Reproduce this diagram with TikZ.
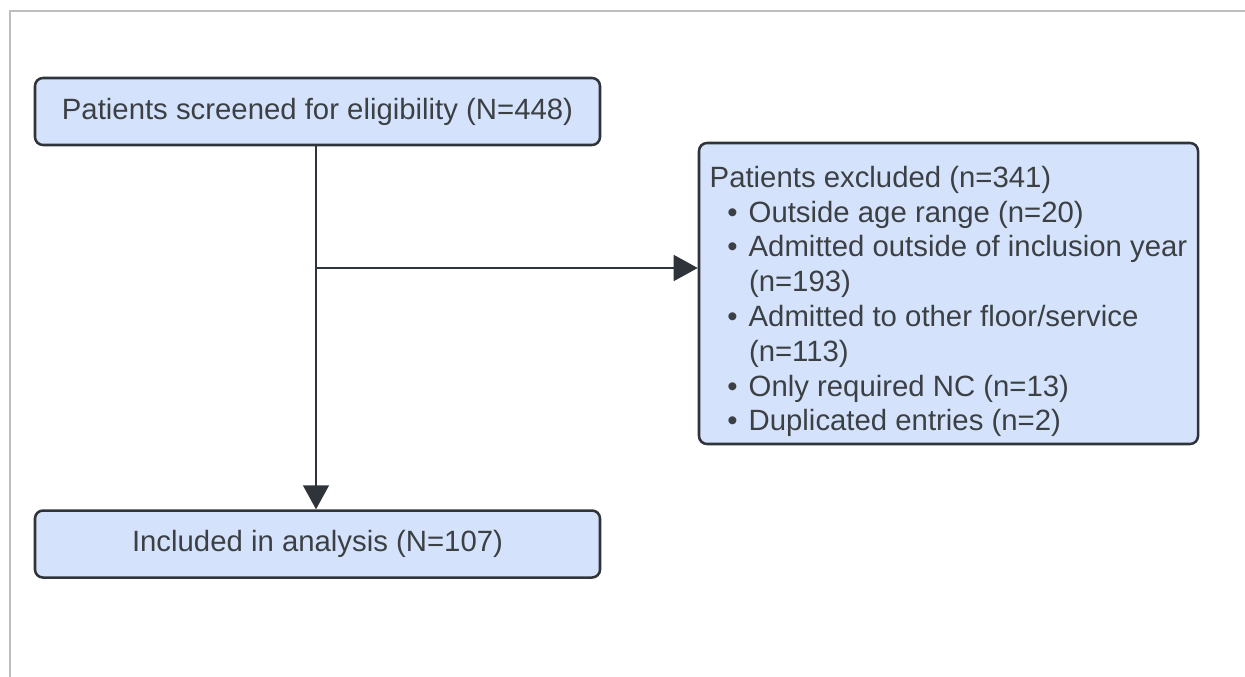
\documentclass[tikz,border=0pt]{standalone}
\usepackage{fontspec}
\setmainfont{Liberation Sans}
\usetikzlibrary{arrows.meta, positioning}
\definecolor{boxfill}{RGB}{212, 227, 251}
\definecolor{boxline}{RGB}{47, 52, 58}
\definecolor{textgray}{RGB}{60, 64, 68}
\definecolor{framegray}{RGB}{190, 190, 190}
\newcommand{\bul}{\hspace*{0.6em}\textbullet\hspace{0.38em}}
\newcommand{\cont}{\hspace*{1.34em}}

\begin{document}
\begin{tikzpicture}[
            x=0.75pt, y=-0.75pt,
            node distance=363*0.75pt,
            stage/.style={rectangle, rounded corners=6pt, draw=boxline, line width=1.9pt, fill=boxfill, text=textgray, font=\fontsize{22}{26.1}\selectfont, minimum width=565*0.75pt, minimum height=67*0.75pt, inner sep=0pt},
            arrow/.style={-{Triangle[width=19.5pt, length=18pt]}, line width=1.1pt, boxline}
        ]
            \useasboundingbox (0,0) rectangle (1245,677);
            % Frame
            \draw[framegray, line width=2.2pt] (10,677) -- (10,11) -- (1245,11);

            % Nodes
            \node[stage] (screen) at (317.5,111.5) {Patients screened for eligibility (N=448)};
            \node[stage, below=of screen.south, anchor=north] (incl) {Included in analysis (N=107)};
            \node[stage, minimum width=499*0.75pt, minimum height=301*0.75pt, align=left] (excl) at (948.5,293.5) {\rule{0pt}{28pt}Patients excluded (n=341)\\
                \bul Outside age range (n=20)\\
                \bul Admitted outside of inclusion year\\
                \cont (n=193)\\
                \bul Admitted to other floor/service\\
                \cont (n=113)\\
                \bul Only required NC (n=13)\\
                \bul Duplicated entries (n=2)};
            \coordinate (branch) at (316,268);

            % Arrows
            \draw[arrow] (screen.south -| branch) -- (incl.north -| branch);
            \draw[arrow] (branch) -- (branch -| excl.west);
        \end{tikzpicture}
\end{document}
